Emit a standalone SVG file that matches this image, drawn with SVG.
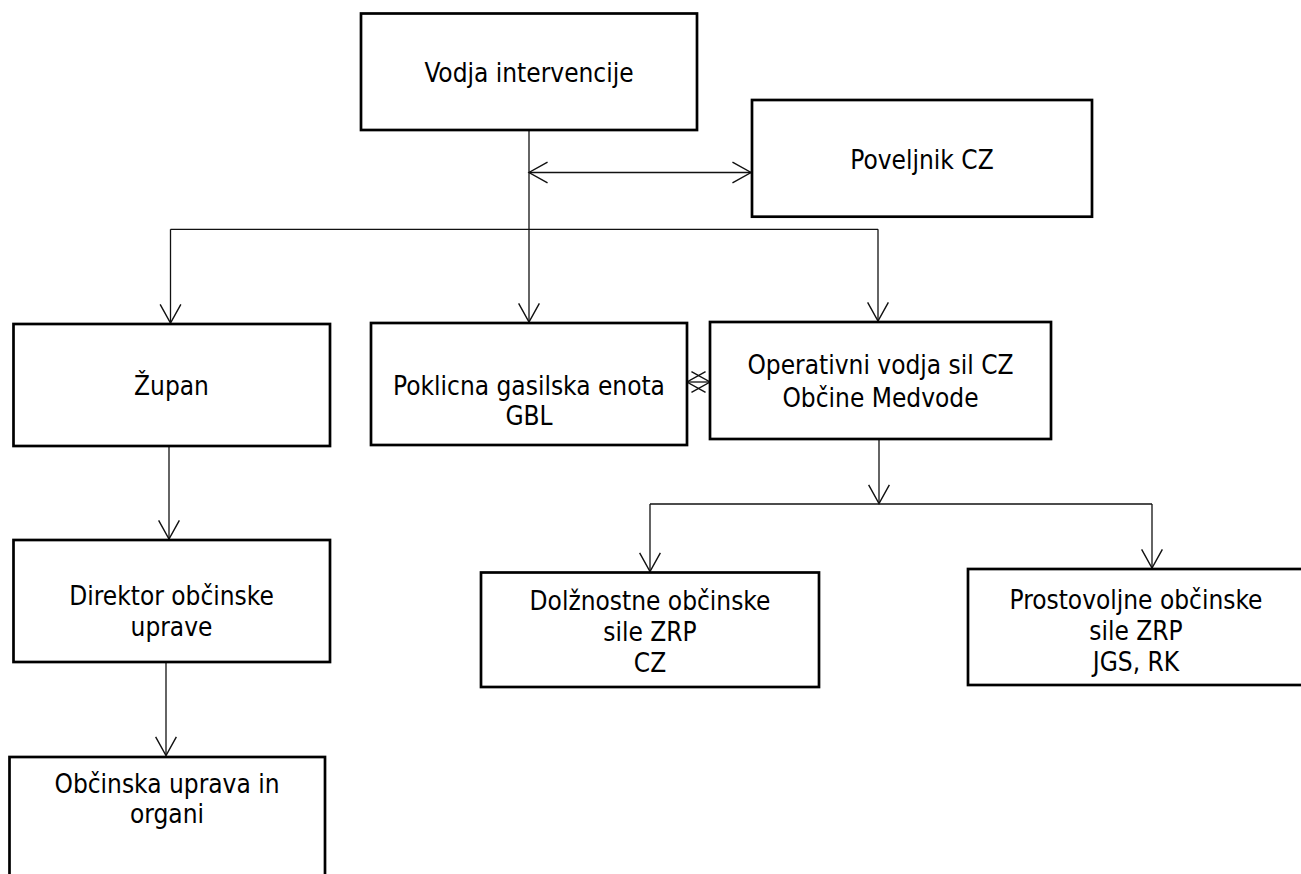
<svg xmlns="http://www.w3.org/2000/svg" width="1301" height="874" viewBox="0 0 1301 874">
<defs>
<style>
.box{fill:#fff;stroke:#000;stroke-width:2.7}
.t{font-family:"DejaVu Sans Condensed","DejaVu Sans",sans-serif;font-size:26px;fill:#000;text-anchor:middle}
.c{fill:none;stroke:#111;stroke-width:1.3}
.a{marker-end:url(#ah)}
.d{marker-start:url(#ah);marker-end:url(#ah)}
</style>
<marker id="ah" markerUnits="userSpaceOnUse" markerWidth="24" markerHeight="24" viewBox="-20 -11 22 22" refX="0" refY="0" orient="auto-start-reverse" overflow="visible">
<path d="M -17 -9.5 L 0 0 L -17 9.5" fill="none" stroke="#111" stroke-width="1.3"/>
</marker>
</defs>
<rect width="1301" height="874" fill="#fff"/>
<g id="connectors">
<path class="c a" d="M 529 131 L 529 322"/>
<path class="c d" d="M 529 172.5 L 751 172.5"/>
<path class="c" d="M 170.5 229.3 L 878 229.3"/>
<path class="c a" d="M 170.5 229.3 L 170.5 323"/>
<path class="c a" d="M 878 229.3 L 878 321"/>
<path class="c d" d="M 687 382 L 710 382"/>
<path class="c a" d="M 879 439 L 879 503.5"/>
<path class="c" d="M 650 504 L 1152 504"/>
<path class="c a" d="M 650 504 L 650 571.5"/>
<path class="c a" d="M 1152 504 L 1152 568"/>
<path class="c a" d="M 169 446 L 169 539"/>
<path class="c a" d="M 166 662 L 166 755.5"/>
</g>
<g id="vodja">
<rect class="box" x="361" y="13.5" width="336" height="116.5"/>
<text class="t" x="529" y="82">Vodja intervencije</text>
</g>
<g id="poveljnik">
<rect class="box" x="752" y="100" width="340" height="116.7"/>
<text class="t" x="922" y="169">Poveljnik CZ</text>
</g>
<g id="zupan">
<rect class="box" x="13.5" y="324" width="316.5" height="122"/>
<text class="t" x="171.5" y="395">Župan</text>
</g>
<g id="poklicna">
<rect class="box" x="371" y="323" width="316" height="122"/>
<text class="t" x="529" y="395">Poklicna gasilska enota</text>
<text class="t" x="529" y="425">GBL</text>
</g>
<g id="operativni">
<rect class="box" x="710" y="322" width="341" height="117"/>
<text class="t" x="880.5" y="374">Operativni vodja sil CZ</text>
<text class="t" x="880.5" y="406.5">Občine Medvode</text>
</g>
<g id="direktor">
<rect class="box" x="13.5" y="540" width="316.5" height="122"/>
<text class="t" x="171.5" y="605">Direktor občinske</text>
<text class="t" x="171.5" y="636">uprave</text>
</g>
<g id="obcinska">
<rect class="box" x="9.5" y="757" width="315.5" height="130"/>
<text class="t" x="167" y="793">Občinska uprava in</text>
<text class="t" x="167" y="823">organi</text>
</g>
<g id="dolznostne">
<rect class="box" x="481" y="572.5" width="338" height="114.5"/>
<text class="t" x="650" y="610">Dolžnostne občinske</text>
<text class="t" x="650" y="641">sile ZRP</text>
<text class="t" x="650" y="672">CZ</text>
</g>
<g id="prostovoljne">
<rect class="box" x="968" y="569" width="336" height="116"/>
<text class="t" x="1136" y="609">Prostovoljne občinske</text>
<text class="t" x="1136" y="640">sile ZRP</text>
<text class="t" x="1136" y="671">JGS, RK</text>
</g>
</svg>
